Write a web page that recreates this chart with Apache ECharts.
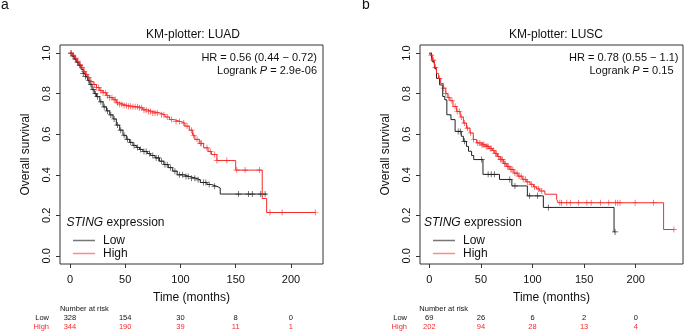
<!DOCTYPE html>
<html>
<head>
<meta charset="utf-8">
<script src="https://cdn.jsdelivr.net/npm/echarts@6/dist/echarts.min.js"></script>
<style>
html, body { margin: 0; padding: 0; background: #fff; }
#main { width: 685px; height: 334px; }
</style>
</head>
<body>
<div id="main"></div>
<script>
// KM curves: [time (months), survival] breakpoints
var luadLow = [[0,1],[2,0.985],[4,0.97],[6,0.955],[8,0.94],[10,0.92],[12,0.9],[14,0.885],[16,0.865],[18,0.845],
    [20,0.82],[22,0.8],[24,0.785],[27,0.76],[30,0.735],[33,0.715],[36,0.695],[39,0.675],[42,0.645],[45,0.62],
    [48,0.595],[51,0.575],[54,0.56],[57,0.545],[60,0.535],[63,0.525],[66,0.515],[70,0.505],[73,0.495],[77,0.483],
    [81,0.467],[85,0.45],[89,0.435],[93,0.418],[97,0.4],[103,0.392],[108,0.383],[114,0.375],[118,0.362],[124,0.352],
    [128,0.343],[133,0.335],[136,0.305],[178,0.305]];
var luadLowCens = [1,3,5,7,9,12,14,17,19,21,23,25,28,31,34,37,40,43,46,49,52,55,58,61,64,67,69,72,75,78,80,83,86,88,
    91,95,99,102,105,107,110,113,116,121,123,126,131,152.5,161.5,165,172.7,176.6];

var luadHigh = [[0,1],[2,0.99],[4,0.975],[6,0.96],[8,0.945],[10,0.93],[12,0.91],[14,0.895],[16,0.88],[18,0.86],
    [21,0.845],[24,0.83],[27,0.815],[30,0.805],[33,0.79],[36,0.78],[39,0.77],[42,0.755],[45,0.748],[48,0.742],
    [52,0.738],[57,0.735],[62,0.73],[66,0.72],[70,0.712],[75,0.705],[81,0.696],[86,0.685],[90,0.672],[94,0.663],
    [100,0.655],[104,0.64],[108,0.62],[111,0.595],[113,0.575],[117,0.555],[121,0.533],[125,0.515],[128,0.5],
    [133,0.47],[150,0.423],[174,0.283],[178,0.214],[222,0.214]];
var luadHighCens = [1,3,5,7,9,11,13,15,17,19,22,24,26,28,30,32,34,36,38,40,41,43,45,47,49,51,53,55,57,59,61,63,65,67,
    69,71,73,75,77,79,83,85,88,92,96,99,103,106,110,112,115,118,119,124,127,131,133,142,151,158.5,171.5,181,192,222];

var luscLow = [[0,1],[2,0.985],[3,0.957],[5,0.925],[7,0.876],[10,0.843],[13,0.786],[15,0.77],[17,0.696],[21,0.672],
    [25,0.614],[31,0.59],[33,0.565],[36,0.54],[38,0.516],[41,0.495],[43,0.475],[52,0.402],[68,0.377],[80,0.345],
    [95,0.296],[110.5,0.239],[179,0.118],[180,0.118]];
var luscLowCens = [28,30,34,50.8,57,60,63,78,83,97,105,115.3,180];

var luscHigh = [[0,1],[1,0.99],[3,0.965],[5,0.93],[7,0.9],[9,0.875],[11,0.85],[13.6,0.827],[16,0.8],[18,0.78],
    [20,0.765],[23,0.737],[26.5,0.712],[30,0.685],[33,0.655],[36,0.63],[39.4,0.606],[42.6,0.574],[45.9,0.557],
    [50,0.548],[54,0.54],[58,0.53],[61,0.52],[63,0.505],[66,0.49],[68.5,0.475],[72,0.455],[75,0.44],[78,0.426],
    [82,0.408],[86,0.393],[90,0.378],[94,0.365],[97.6,0.353],[101,0.34],[104,0.33],[107,0.32],[112,0.304],
    [123.4,0.278],[125,0.262],[227,0.13],[237,0.13]];
var luscHighCens = [2,4,6,10,14,16,19,22,25,27,29,31,34,37,40,43,47,49,51,52,53,55,56,57,59,60,62,64,65,67,69,70,71,
    73,74,76,77,79,80,81,83,85,87,89,91,93,95,99,102,106,109,126.5,128,133.2,136.6,144.6,152.7,156.8,165.8,173.9,
    180.4,182.6,184.8,199.4,217.2,237];

// ticks and number at risk
var timeTicks = [0, 50, 100, 150, 200];
var survTicks = [0, 0.2, 0.4, 0.6, 0.8, 1.0];
var luadRiskLow = [328, 154, 30, 8, 0];
var luadRiskHigh = [344, 190, 39, 11, 1];
var luscRiskLow = [69, 26, 6, 2, 0];
var luscRiskHigh = [202, 94, 28, 13, 4];

var FONT = 'Liberation Sans, Arial, sans-serif';
var BLACK = '#222';
var RED = '#f52a2a';
var PLUS = 'path://M4.4,0H5.6V4.4H10V5.6H5.6V10H4.4V5.6H0V4.4H4.4Z';

// survival value of the step curve at time t (censor marks sit on the curve)
function survAt(curve, t) {
    var s = curve[0][1];
    for (var i = 0; i < curve.length; i++) {
        if (curve[i][0] <= t) s = curve[i][1];
    }
    return s;
}
function censData(curve, times) {
    return times.map(function (t) { return [t, survAt(curve, t)]; });
}

function xAxisFor(idx, min, max) {
    return {
        type: 'value', gridIndex: idx, min: min, max: max, position: 'bottom',
        axisLine: { show: false, onZero: false }, splitLine: { show: false },
        axisTick: { show: true, inside: false, customValues: timeTicks, length: 4, lineStyle: { color: '#333' } },
        axisLabel: { customValues: timeTicks, fontSize: 11, color: '#111', fontFamily: FONT, margin: 10 },
        name: 'Time (months)', nameLocation: 'middle', nameGap: 28,
        nameTextStyle: { fontSize: 12, color: '#111', fontFamily: FONT }
    };
}
function yAxisFor(idx) {
    return {
        type: 'value', gridIndex: idx, min: -0.04, max: 1.04, position: 'left',
        axisLine: { show: false, onZero: false }, splitLine: { show: false },
        axisTick: { show: true, inside: false, customValues: survTicks, length: 4, lineStyle: { color: '#333' } },
        axisLabel: {
            customValues: survTicks, rotate: 90, fontSize: 11, color: '#111', fontFamily: FONT, margin: 8,
            formatter: function (v) { return v.toFixed(1); }
        },
        name: 'Overall survival', nameLocation: 'middle', nameGap: 28,
        nameTextStyle: { fontSize: 12, color: '#111', fontFamily: FONT }
    };
}
function curveSeries(idx, name, data, color) {
    return {
        name: name, type: 'line', xAxisIndex: idx, yAxisIndex: idx, data: data, step: 'end',
        showSymbol: false, lineStyle: { color: color, width: 1 }, itemStyle: { color: color }, silent: true
    };
}
function censSeries(idx, name, data, color) {
    return {
        name: name + ' censored', type: 'scatter', xAxisIndex: idx, yAxisIndex: idx, data: data,
        symbol: PLUS, symbolSize: 6, itemStyle: { color: color, opacity: 0.85 }, silent: true
    };
}
function legendFor(left) {
    return {
        orient: 'vertical', left: left, top: 229, icon: 'rect', itemWidth: 22, itemHeight: 1.5, itemGap: 0,
        selectedMode: false,
        textStyle: { fontSize: 12, lineHeight: 13, color: '#111', fontFamily: FONT, padding: [0, 0, 0, 3] },
        data: [
            { name: 'Low', itemStyle: { color: '#777' } },
            { name: 'High', itemStyle: { color: '#f88' } }
        ]
    };
}

var chart = echarts.init(document.getElementById('main'));
chart.setOption({
    animation: false,
    textStyle: { fontFamily: FONT },
    grid: [
        { left: 60, top: 45, width: 263, height: 219, show: true, borderColor: '#333', borderWidth: 1 },
        { left: 420, top: 45, width: 263, height: 219, show: true, borderColor: '#333', borderWidth: 1 }
    ],
    xAxis: [xAxisFor(0, -9, 229), xAxisFor(1, -9, 245.8)],
    yAxis: [yAxisFor(0), yAxisFor(1)],
    legend: [legendFor(68), legendFor(428)],
    series: [
        curveSeries(0, 'Low', luadLow, BLACK),
        curveSeries(0, 'High', luadHigh, RED),
        censSeries(0, 'Low', censData(luadLow, luadLowCens), BLACK),
        censSeries(0, 'High', censData(luadHigh, luadHighCens), RED),
        curveSeries(1, 'Low', luscLow, BLACK),
        curveSeries(1, 'High', luscHigh, RED),
        censSeries(1, 'Low', censData(luscLow, luscLowCens), BLACK),
        censSeries(1, 'High', censData(luscHigh, luscHighCens), RED)
    ]
});

// text: panel letters, titles, stats, legend title, number at risk table
function txt(x, y, text, size, align, color, extra) {
    var style = { text: text, x: x, y: y, fontSize: size, fontFamily: FONT, fill: color || '#111',
        align: align || 'left', verticalAlign: 'middle' };
    if (extra) for (var k in extra) style[k] = extra[k];
    return { type: 'text', silent: true, style: style };
}
var rich = {
    n: { fontSize: 11, fontFamily: FONT, fill: '#111' },
    i: { fontSize: 11, fontFamily: FONT, fill: '#111', fontStyle: 'italic' },
    n12: { fontSize: 12, fontFamily: FONT, fill: '#111' },
    i12: { fontSize: 12, fontFamily: FONT, fill: '#111', fontStyle: 'italic' }
};
var g = [
    txt(1, 5, 'a', 14),
    txt(362, 5, 'b', 14),
    txt(193, 35, 'KM-plotter: LUAD', 12, 'center'),
    txt(556, 35, 'KM-plotter: LUSC', 12, 'center'),
    txt(317, 57.5, 'HR = 0.56 (0.44 \u2212 0.72)', 11, 'right'),
    txt(317, 71, '{n|Logrank }{i|P}{n| = 2.9e-06}', 11, 'right', null, { rich: rich }),
    txt(678.5, 57.5, 'HR = 0.78 (0.55 \u2212 1.1)', 11, 'right'),
    txt(673.5, 71, '{n|Logrank }{i|P}{n| = 0.15}', 11, 'right', null, { rich: rich }),
    txt(66.5, 223, '{i12|STING}{n12| expression}', 12, 'left', null, { rich: rich }),
    txt(424, 223, '{i12|STING}{n12| expression}', 12, 'left', null, { rich: rich })
];

function riskTable(idx, labelX, lows, highs) {
    var left = chart.convertToPixel({ gridIndex: idx }, [0, 0])[0];
    g.push(txt(left - 10, 308.5, 'Number at risk', 7.5, 'left'));
    g.push(txt(labelX, 318, 'Low', 7.5, 'right'));
    g.push(txt(labelX, 327, 'High', 7.5, 'right', RED));
    for (var i = 0; i < timeTicks.length; i++) {
        var px = chart.convertToPixel({ gridIndex: idx }, [timeTicks[i], 0])[0];
        g.push(txt(px, 318, String(lows[i]), 7.5, 'center'));
        g.push(txt(px, 327, String(highs[i]), 7.5, 'center', RED));
    }
}
riskTable(0, 49, luadRiskLow, luadRiskHigh);
riskTable(1, 407, luscRiskLow, luscRiskHigh);

chart.setOption({ graphic: g });
</script>
</body>
</html>
